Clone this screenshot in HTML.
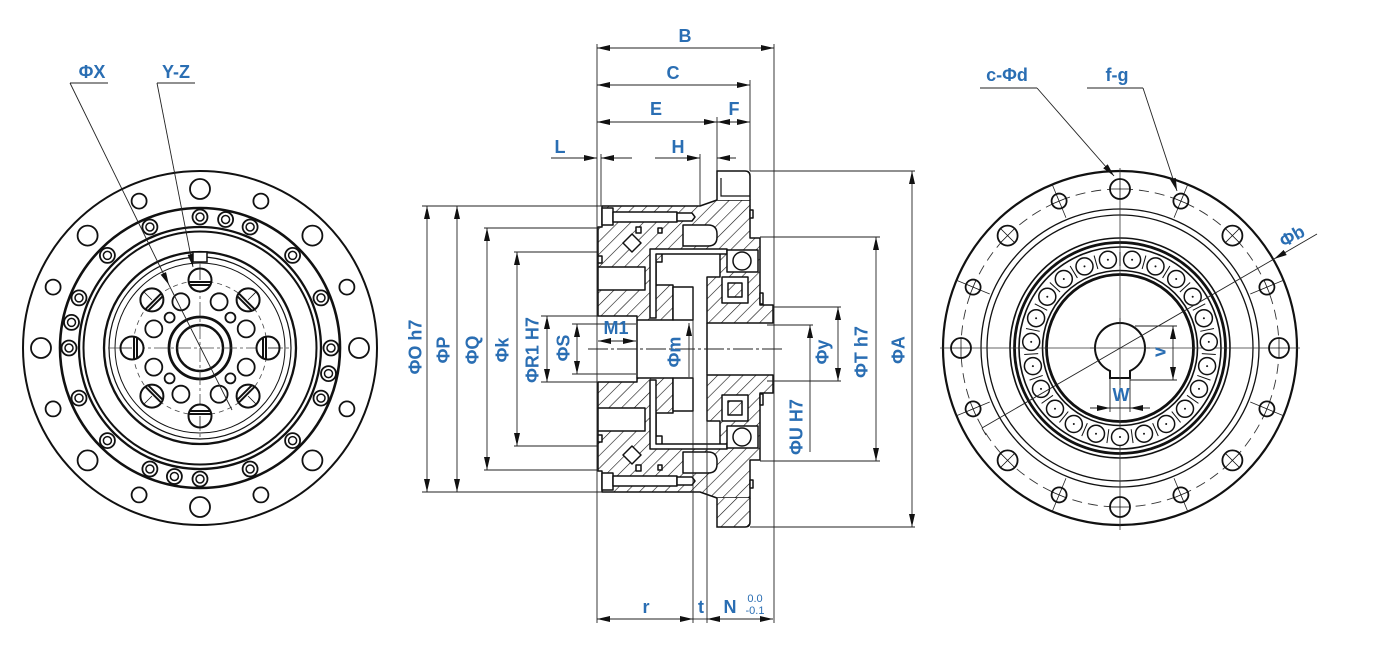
<!DOCTYPE html>
<html><head><meta charset="utf-8"><style>
html,body{margin:0;padding:0;background:#fff;}
svg{display:block;}
.t{font-family:"Liberation Sans",Arial,sans-serif;font-weight:bold;font-size:18px;fill:#2a6eb3;text-anchor:middle;}
.s{font-family:"Liberation Sans",Arial,sans-serif;font-size:11px;fill:#2a6eb3;text-anchor:middle;}
.d{stroke:#222;stroke-width:0.9;fill:none;}
.k{stroke:#111;fill:#fff;}
</style></head><body>
<svg width="1378" height="645" viewBox="0 0 1378 645" xmlns="http://www.w3.org/2000/svg">
<defs>
<marker id="ar" viewBox="0 0 13 6" refX="13" refY="3" markerWidth="13" markerHeight="6" markerUnits="userSpaceOnUse" orient="auto-start-reverse"><path d="M0,0L13,3L0,6z" fill="#111"/></marker>
<pattern id="hA" patternUnits="userSpaceOnUse" width="9" height="9" patternTransform="rotate(45)"><rect width="9" height="9" fill="#fff"/><line x1="0" y1="0" x2="0" y2="9" stroke="#111" stroke-width="1.2"/></pattern>
<pattern id="hB" patternUnits="userSpaceOnUse" width="9" height="9" patternTransform="rotate(-45)"><rect width="9" height="9" fill="#fff"/><line x1="0" y1="0" x2="0" y2="9" stroke="#111" stroke-width="1.2"/></pattern>
<g id="big"><circle r="10" fill="#fff" stroke="#111" stroke-width="1.8"/><line x1="-10" y1="0" x2="10" y2="0" stroke="#111" stroke-width="0.8"/><line x1="0" y1="-10" x2="0" y2="10" stroke="#111" stroke-width="0.8"/></g>
<g id="sml"><line x1="0" y1="-18" x2="0" y2="18" stroke="#222" stroke-width="0.8"/><circle r="7.5" fill="#fff" stroke="#111" stroke-width="1.8"/><line x1="-7.5" y1="0" x2="7.5" y2="0" stroke="#111" stroke-width="0.8"/><line x1="0" y1="-7.5" x2="0" y2="7.5" stroke="#111" stroke-width="0.8"/></g>
<g id="cb"><circle r="7.5" fill="#fff" stroke="#111" stroke-width="1.8"/><circle r="4" fill="none" stroke="#111" stroke-width="1.5"/></g>
<g id="slot"><circle r="11.5" fill="#fff" stroke="#111" stroke-width="2"/><line x1="0" y1="-11.5" x2="0" y2="0" stroke="#111" stroke-width="0.8"/><line x1="-11.3" y1="2" x2="11.3" y2="2" stroke="#111" stroke-width="2"/><line x1="-10.3" y1="5" x2="10.3" y2="5" stroke="#111" stroke-width="2"/></g>
<line id="tick" x1="1120" y1="252" x2="1120" y2="266" stroke="#111" stroke-width="1"/>
<g id="secU" stroke="#111" stroke-width="1.5" stroke-linejoin="round">
 <path d="M598,227 L602,227 L602,206 L700,206 L717,200 L750,200 L750,238 L760,238 L760,305 L773,305 L773,323 L707,323 L707,277 L720,277 L720,250 L662,250 L662,262 L656,262 L656,285 L673,285 L673,320 L637,320 L637,316 L598,316 Z"/>
 <rect x="602" y="208" width="11" height="17" fill="#fff"/>
 <rect x="613" y="212" width="64" height="10" fill="#fff"/>
 <path d="M677,213 L692,213 L695,217 L692,221 L677,221 Z" fill="#fff"/>
 <path d="M683,225 L708,225 Q717,225 717,234 L717,237 Q717,246 708,246 L683,246 Z" fill="#fff"/>
 <rect x="598" y="267" width="47" height="23" fill="#fff"/>
 <polygon points="632,234 641,243 632,252 623,243" fill="#fff"/>
 <rect x="636" y="227" width="5" height="6" fill="#fff"/>
 <rect x="658" y="228" width="4" height="5" fill="#fff"/>
 <rect x="598" y="256" width="4" height="7" fill="#fff"/>
 <path d="M650,318 L650,249 L727,249 L727,254 L656,254 L656,318 Z" fill="#fff"/>
 <rect x="673" y="287" width="20" height="33" fill="#fff"/>
 <rect x="727" y="250" width="31" height="22" fill="#fff"/>
 <circle cx="742" cy="261" r="9" fill="#fff"/>
 <rect x="722" y="277" width="26" height="26" fill="#fff"/>
 <rect x="728" y="283" width="14" height="14"/>
 <rect x="760" y="293" width="3" height="11" fill="#fff"/>
 <rect x="750" y="210" width="3" height="8" fill="#fff"/>
</g>
</defs>
<rect width="1378" height="645" fill="#fff"/>

<!-- ============ LEFT VIEW ============ -->
<g fill="none" stroke="#111">
 <circle cx="200" cy="348" r="177" stroke-width="2"/>
 <circle cx="200" cy="348" r="140" stroke-width="2.6"/>
 <circle cx="200" cy="348" r="121" stroke-width="2.3"/>
 <circle cx="200" cy="348" r="116.5" stroke-width="2"/>
 <circle cx="200" cy="348" r="96" stroke-width="2.3"/>
 <circle cx="200" cy="348" r="91" stroke-width="1.2"/>
 <circle cx="200" cy="348" r="85" stroke-width="1"/>
 <circle cx="200" cy="348" r="67" stroke-width="0.8" stroke-dasharray="5 4" stroke="#444"/>
 <circle cx="200" cy="348" r="31" stroke-width="2.8"/>
 <circle cx="200" cy="348" r="23" stroke-width="2.4"/>
 <line x1="108" y1="348" x2="292" y2="348" stroke="#444" stroke-width="0.8" stroke-dasharray="14 3 3 3"/>
 <line x1="200" y1="256" x2="200" y2="440" stroke="#444" stroke-width="0.8" stroke-dasharray="14 3 3 3"/>
 <g stroke-width="1.8" fill="#fff">
  <circle cx="200" cy="189" r="10"/><circle cx="312.4" cy="235.6" r="10"/><circle cx="359" cy="348" r="10"/><circle cx="312.4" cy="460.4" r="10"/>
  <circle cx="200" cy="507" r="10"/><circle cx="87.6" cy="460.4" r="10"/><circle cx="41" cy="348" r="10"/><circle cx="87.6" cy="235.6" r="10"/>
  <circle cx="260.9" cy="201.1" r="7.5"/><circle cx="346.9" cy="287.1" r="7.5"/><circle cx="346.9" cy="408.9" r="7.5"/><circle cx="260.9" cy="494.9" r="7.5"/>
  <circle cx="139.1" cy="494.9" r="7.5"/><circle cx="53.1" cy="408.9" r="7.5"/><circle cx="53.1" cy="287.1" r="7.5"/><circle cx="139.1" cy="201.1" r="7.5"/>
 </g>
 <g stroke-width="1.8" fill="#fff">
  <circle cx="219.1" cy="301.8" r="8.5"/><circle cx="246.2" cy="328.9" r="8.5"/><circle cx="246.2" cy="367.1" r="8.5"/><circle cx="219.1" cy="394.2" r="8.5"/>
  <circle cx="180.9" cy="394.2" r="8.5"/><circle cx="153.8" cy="367.1" r="8.5"/><circle cx="153.8" cy="328.9" r="8.5"/><circle cx="180.9" cy="301.8" r="8.5"/>
  <circle cx="230.4" cy="317.6" r="5"/><circle cx="230.4" cy="378.4" r="5"/><circle cx="169.6" cy="378.4" r="5"/><circle cx="169.6" cy="317.6" r="5"/>
 </g>
 <rect x="193" y="252" width="14" height="10" fill="#fff" stroke-width="1.5"/>
</g>
<use href="#cb" transform="translate(200,217)"/><use href="#cb" transform="translate(225.6,219.5)"/><use href="#cb" transform="translate(250.1,227)"/>
<use href="#cb" transform="translate(292.6,255.4)"/><use href="#cb" transform="translate(321,297.9)"/><use href="#cb" transform="translate(331,348)"/>
<use href="#cb" transform="translate(328.5,373.6)"/><use href="#cb" transform="translate(321,398.1)"/><use href="#cb" transform="translate(292.6,440.6)"/>
<use href="#cb" transform="translate(250.1,469)"/><use href="#cb" transform="translate(200,479)"/><use href="#cb" transform="translate(174.4,476.5)"/>
<use href="#cb" transform="translate(149.9,469)"/><use href="#cb" transform="translate(107.4,440.6)"/><use href="#cb" transform="translate(79,398.1)"/>
<use href="#cb" transform="translate(69,348)"/><use href="#cb" transform="translate(71.5,322.4)"/><use href="#cb" transform="translate(79,297.9)"/>
<use href="#cb" transform="translate(107.4,255.4)"/><use href="#cb" transform="translate(149.9,227)"/>
<use href="#slot" transform="translate(200,280) rotate(0)"/><use href="#slot" transform="translate(248.1,299.9) rotate(45)"/>
<use href="#slot" transform="translate(268,348) rotate(90)"/><use href="#slot" transform="translate(248.1,396.1) rotate(135)"/>
<use href="#slot" transform="translate(200,416) rotate(180)"/><use href="#slot" transform="translate(151.9,396.1) rotate(225)"/>
<use href="#slot" transform="translate(132,348) rotate(270)"/><use href="#slot" transform="translate(151.9,299.9) rotate(315)"/>
<!-- left leaders -->
<line class="d" x1="70" y1="83" x2="108" y2="83"/>
<line class="d" x1="157" y1="83" x2="195" y2="83"/>
<line class="d" x1="70" y1="83" x2="169" y2="285" marker-end="url(#ar)"/>
<line class="d" x1="169" y1="285" x2="232" y2="410"/>
<line class="d" x1="157" y1="83" x2="193" y2="267" marker-end="url(#ar)"/>
<text class="t" x="92" y="78">ΦX</text>
<text class="t" x="176" y="78">Y-Z</text>

<!-- ============ SECTION VIEW ============ -->
<use href="#secU" fill="url(#hA)"/>
<use href="#secU" fill="url(#hB)" transform="matrix(1,0,0,-1,0,698)"/>
<path d="M717,200 L717,171 L745,171 Q750,171 750,176 L750,200" fill="#fff" stroke="#111" stroke-width="1.5"/>
<path d="M721,178 L721,196 L750,196" fill="none" stroke="#111" stroke-width="1.2"/>
<path d="M717,498 L717,527 L745,527 Q750,527 750,522 L750,498" fill="url(#hA)" stroke="#111" stroke-width="1.5"/>
<g stroke="#111" stroke-width="1.5">
 <line x1="637" y1="320" x2="637" y2="378"/>
 <line x1="707" y1="323" x2="707" y2="375"/>
</g>
<g class="d">
 <line x1="588" y1="349" x2="782" y2="349" stroke-dasharray="20 3 3 3"/>
 <line x1="693" y1="287" x2="693" y2="623"/>
 <line x1="707" y1="373" x2="707" y2="623"/>
 <line x1="597" y1="44" x2="597" y2="623"/>
 <line x1="774" y1="44" x2="774" y2="623"/>
 <line x1="750" y1="80" x2="750" y2="171"/>
 <line x1="717" y1="117" x2="717" y2="171"/>
 <line x1="601" y1="154" x2="601" y2="206"/>
 <line x1="700" y1="154" x2="700" y2="206"/>
 <line x1="422" y1="206" x2="602" y2="206"/>
 <line x1="422" y1="492" x2="602" y2="492"/>
 <line x1="484" y1="228" x2="598" y2="228"/>
 <line x1="484" y1="470" x2="598" y2="470"/>
 <line x1="514" y1="252" x2="598" y2="252"/>
 <line x1="514" y1="446" x2="598" y2="446"/>
 <line x1="541" y1="316" x2="598" y2="316"/>
 <line x1="541" y1="382" x2="598" y2="382"/>
 <line x1="572" y1="324" x2="636" y2="324"/>
 <line x1="572" y1="374" x2="636" y2="374"/>
 <line x1="750" y1="171" x2="915" y2="171"/>
 <line x1="750" y1="527" x2="915" y2="527"/>
 <line x1="760" y1="237" x2="880" y2="237"/>
 <line x1="760" y1="461" x2="880" y2="461"/>
 <line x1="774" y1="307" x2="841" y2="307"/>
 <line x1="767" y1="381" x2="841" y2="381"/>
 <line x1="767" y1="325" x2="813" y2="325"/>
 <line x1="597" y1="48" x2="774" y2="48" marker-start="url(#ar)" marker-end="url(#ar)"/>
 <line x1="597" y1="85" x2="750" y2="85" marker-start="url(#ar)" marker-end="url(#ar)"/>
 <line x1="597" y1="122" x2="717" y2="122" marker-start="url(#ar)" marker-end="url(#ar)"/>
 <line x1="717" y1="122" x2="750" y2="122" marker-start="url(#ar)" marker-end="url(#ar)"/>
 <line x1="551" y1="158" x2="597" y2="158" marker-end="url(#ar)"/>
 <line x1="601" y1="158" x2="632" y2="158" marker-start="url(#ar)"/>
 <line x1="655" y1="158" x2="700" y2="158" marker-end="url(#ar)"/>
 <line x1="717" y1="158" x2="736" y2="158" marker-start="url(#ar)"/>
 <line x1="598" y1="341" x2="636" y2="341" marker-start="url(#ar)" marker-end="url(#ar)"/>
 <line x1="597" y1="619" x2="693" y2="619" marker-start="url(#ar)" marker-end="url(#ar)"/>
 <line x1="693" y1="619" x2="707" y2="619"/>
 <line x1="707" y1="619" x2="773" y2="619" marker-start="url(#ar)" marker-end="url(#ar)"/>
 <line x1="427" y1="206" x2="427" y2="492" marker-start="url(#ar)" marker-end="url(#ar)"/>
 <line x1="457" y1="206" x2="457" y2="492" marker-start="url(#ar)" marker-end="url(#ar)"/>
 <line x1="487" y1="228" x2="487" y2="470" marker-start="url(#ar)" marker-end="url(#ar)"/>
 <line x1="517" y1="252" x2="517" y2="446" marker-start="url(#ar)" marker-end="url(#ar)"/>
 <line x1="547" y1="316" x2="547" y2="382" marker-start="url(#ar)" marker-end="url(#ar)"/>
 <line x1="577" y1="324" x2="577" y2="374" marker-start="url(#ar)" marker-end="url(#ar)"/>
 <line x1="689" y1="377" x2="689" y2="323" marker-end="url(#ar)"/>
 <line x1="810" y1="452" x2="810" y2="325" marker-end="url(#ar)"/>
 <line x1="838" y1="307" x2="838" y2="381" marker-start="url(#ar)" marker-end="url(#ar)"/>
 <line x1="876" y1="237" x2="876" y2="461" marker-start="url(#ar)" marker-end="url(#ar)"/>
 <line x1="912" y1="171" x2="912" y2="527" marker-start="url(#ar)" marker-end="url(#ar)"/>
</g>
<text class="t" x="685" y="42">B</text>
<text class="t" x="673" y="79">C</text>
<text class="t" x="656" y="115">E</text>
<text class="t" x="734" y="115">F</text>
<text class="t" x="560" y="153">L</text>
<text class="t" x="678" y="153">H</text>
<text class="t" x="616" y="334">M1</text>
<text class="t" x="646" y="613">r</text>
<text class="t" x="701" y="613">t</text>
<text class="t" x="730" y="613">N</text>
<text class="s" x="755" y="602">0.0</text>
<text class="s" x="755" y="614">-0.1</text>
<text class="t" x="415" y="347" dy="0.35em" transform="rotate(-90 415 347)">ΦO h7</text>
<text class="t" x="443" y="350" dy="0.35em" transform="rotate(-90 443 350)">ΦP</text>
<text class="t" x="472" y="350" dy="0.35em" transform="rotate(-90 472 350)">ΦQ</text>
<text class="t" x="502" y="350" dy="0.35em" transform="rotate(-90 502 350)">Φk</text>
<text class="t" x="532" y="350" dy="0.35em" transform="rotate(-90 532 350)">ΦR1 H7</text>
<text class="t" x="563" y="348" dy="0.35em" transform="rotate(-90 563 348)">ΦS</text>
<text class="t" x="674" y="352" dy="0.35em" transform="rotate(-90 674 352)">Φm</text>
<text class="t" x="796" y="427" dy="0.35em" transform="rotate(-90 796 427)">ΦU H7</text>
<text class="t" x="822" y="352" dy="0.35em" transform="rotate(-90 822 352)">Φy</text>
<text class="t" x="861" y="352" dy="0.35em" transform="rotate(-90 861 352)">ΦT h7</text>
<text class="t" x="898" y="350" dy="0.35em" transform="rotate(-90 898 350)">ΦA</text>

<!-- ============ RIGHT VIEW ============ -->
<g fill="none" stroke="#111">
 <circle cx="1120" cy="348" r="177" stroke-width="2.2"/>
 <circle cx="1120" cy="348" r="159" stroke-width="0.9" stroke-dasharray="10 6" stroke="#333"/>
 <circle cx="1120" cy="348" r="139" stroke-width="1.3"/>
 <circle cx="1120" cy="348" r="133" stroke-width="1.3"/>
 <circle cx="1120" cy="348" r="110" stroke-width="1.6"/>
 <circle cx="1120" cy="348" r="105.5" stroke-width="2.8"/>
 <circle cx="1120" cy="348" r="101" stroke-width="1.6"/>
 <circle cx="1120" cy="348" r="77.5" stroke-width="1.6"/>
 <circle cx="1120" cy="348" r="73.5" stroke-width="2.8"/>
 <line x1="1120" y1="168" x2="1120" y2="530" stroke="#333" stroke-width="0.8"/>
 <line x1="940" y1="348" x2="1300" y2="348" stroke="#333" stroke-width="0.8"/>
</g>
<g>
 <use href="#tick" transform="rotate(0 1120 348)"/><use href="#tick" transform="rotate(15.652 1120 348)"/><use href="#tick" transform="rotate(31.304 1120 348)"/>
 <use href="#tick" transform="rotate(46.957 1120 348)"/><use href="#tick" transform="rotate(62.609 1120 348)"/><use href="#tick" transform="rotate(78.261 1120 348)"/>
 <use href="#tick" transform="rotate(93.913 1120 348)"/><use href="#tick" transform="rotate(109.565 1120 348)"/><use href="#tick" transform="rotate(125.217 1120 348)"/>
 <use href="#tick" transform="rotate(140.87 1120 348)"/><use href="#tick" transform="rotate(156.522 1120 348)"/><use href="#tick" transform="rotate(172.174 1120 348)"/>
 <use href="#tick" transform="rotate(187.826 1120 348)"/><use href="#tick" transform="rotate(203.478 1120 348)"/><use href="#tick" transform="rotate(219.13 1120 348)"/>
 <use href="#tick" transform="rotate(234.783 1120 348)"/><use href="#tick" transform="rotate(250.435 1120 348)"/><use href="#tick" transform="rotate(266.087 1120 348)"/>
 <use href="#tick" transform="rotate(281.739 1120 348)"/><use href="#tick" transform="rotate(297.391 1120 348)"/><use href="#tick" transform="rotate(313.043 1120 348)"/>
 <use href="#tick" transform="rotate(328.696 1120 348)"/><use href="#tick" transform="rotate(344.348 1120 348)"/>
</g>
<g fill="#fff" stroke="#111" stroke-width="1.5">
 <circle cx="1120" cy="437" r="8.5"/><circle cx="1096" cy="433.7" r="8.5"/><circle cx="1073.8" cy="424" r="8.5"/><circle cx="1055" cy="408.8" r="8.5"/>
 <circle cx="1041" cy="388.9" r="8.5"/><circle cx="1032.9" cy="366.1" r="8.5"/><circle cx="1031.2" cy="341.9" r="8.5"/><circle cx="1036.1" cy="318.2" r="8.5"/>
 <circle cx="1047.3" cy="296.7" r="8.5"/><circle cx="1063.8" cy="279" r="8.5"/><circle cx="1084.5" cy="266.4" r="8.5"/><circle cx="1107.9" cy="259.8" r="8.5"/>
 <circle cx="1132.1" cy="259.8" r="8.5"/><circle cx="1155.5" cy="266.4" r="8.5"/><circle cx="1176.2" cy="279" r="8.5"/><circle cx="1192.7" cy="296.7" r="8.5"/>
 <circle cx="1203.9" cy="318.2" r="8.5"/><circle cx="1208.8" cy="341.9" r="8.5"/><circle cx="1207.1" cy="366.1" r="8.5"/><circle cx="1199" cy="388.9" r="8.5"/>
 <circle cx="1185" cy="408.8" r="8.5"/><circle cx="1166.2" cy="424" r="8.5"/><circle cx="1144" cy="433.7" r="8.5"/>
</g>
<g fill="#111">
 <circle cx="1120" cy="437" r="1"/><circle cx="1096" cy="433.7" r="1"/><circle cx="1073.8" cy="424" r="1"/><circle cx="1055" cy="408.8" r="1"/>
 <circle cx="1041" cy="388.9" r="1"/><circle cx="1032.9" cy="366.1" r="1"/><circle cx="1031.2" cy="341.9" r="1"/><circle cx="1036.1" cy="318.2" r="1"/>
 <circle cx="1047.3" cy="296.7" r="1"/><circle cx="1063.8" cy="279" r="1"/><circle cx="1084.5" cy="266.4" r="1"/><circle cx="1107.9" cy="259.8" r="1"/>
 <circle cx="1132.1" cy="259.8" r="1"/><circle cx="1155.5" cy="266.4" r="1"/><circle cx="1176.2" cy="279" r="1"/><circle cx="1192.7" cy="296.7" r="1"/>
 <circle cx="1203.9" cy="318.2" r="1"/><circle cx="1208.8" cy="341.9" r="1"/><circle cx="1207.1" cy="366.1" r="1"/><circle cx="1199" cy="388.9" r="1"/>
 <circle cx="1185" cy="408.8" r="1"/><circle cx="1166.2" cy="424" r="1"/><circle cx="1144" cy="433.7" r="1"/>
</g>
<path d="M1110,370.9 L1110,378 L1130,378 L1130,370.9 A25,25 0 1 0 1110,370.9 Z" fill="#fff" stroke="#111" stroke-width="2"/>
<line x1="1120" y1="318" x2="1120" y2="385" stroke="#333" stroke-width="0.8"/>
<line x1="1090" y1="348" x2="1150" y2="348" stroke="#333" stroke-width="0.8"/>
<use href="#big" transform="translate(1120,189) rotate(0)"/><use href="#big" transform="translate(1232.4,235.6) rotate(45)"/>
<use href="#big" transform="translate(1279,348) rotate(90)"/><use href="#big" transform="translate(1232.4,460.4) rotate(135)"/>
<use href="#big" transform="translate(1120,507) rotate(180)"/><use href="#big" transform="translate(1007.6,460.4) rotate(225)"/>
<use href="#big" transform="translate(961,348) rotate(270)"/><use href="#big" transform="translate(1007.6,235.6) rotate(315)"/>
<use href="#sml" transform="translate(1180.9,201.1) rotate(22.5)"/><use href="#sml" transform="translate(1266.9,287.1) rotate(67.5)"/>
<use href="#sml" transform="translate(1266.9,408.9) rotate(112.5)"/><use href="#sml" transform="translate(1180.9,494.9) rotate(157.5)"/>
<use href="#sml" transform="translate(1059.1,494.9) rotate(202.5)"/><use href="#sml" transform="translate(973.1,408.9) rotate(247.5)"/>
<use href="#sml" transform="translate(973.1,287.1) rotate(292.5)"/><use href="#sml" transform="translate(1059.1,201.1) rotate(337.5)"/>
<g class="d">
 <line x1="1135" y1="326" x2="1177" y2="326"/>
 <line x1="1130" y1="380" x2="1177" y2="380"/>
 <line x1="1173" y1="326" x2="1173" y2="380" marker-start="url(#ar)" marker-end="url(#ar)"/>
 <line x1="1110" y1="378" x2="1110" y2="412"/>
 <line x1="1130" y1="378" x2="1130" y2="412"/>
 <line x1="1090" y1="408" x2="1110" y2="408" marker-end="url(#ar)"/>
 <line x1="1150" y1="408" x2="1130" y2="408" marker-end="url(#ar)"/>
 <line x1="1110" y1="408" x2="1130" y2="408"/>
 <line x1="980" y1="88" x2="1037" y2="88"/>
 <line x1="1087" y1="88" x2="1143" y2="88"/>
 <line x1="1037" y1="88" x2="1114" y2="176" marker-end="url(#ar)"/>
 <line x1="1143" y1="88" x2="1177" y2="191" marker-end="url(#ar)"/>
 <line x1="1317" y1="234" x2="1274" y2="259" marker-end="url(#ar)"/>
 <line x1="1274" y1="259" x2="982" y2="428"/>
 <line x1="982" y1="428" x2="986" y2="435"/>
</g>
<text class="t" x="1007" y="81">c-Φd</text>
<text class="t" x="1117" y="81">f-g</text>
<text class="t" x="1121" y="401">W</text>
<text class="t" x="1159" y="352" dy="0.35em" transform="rotate(-90 1159 352)">v</text>
<text class="t" x="1292" y="236" dy="0.35em" transform="rotate(-30 1292 236)">Φb</text>
</svg>
</body></html>
